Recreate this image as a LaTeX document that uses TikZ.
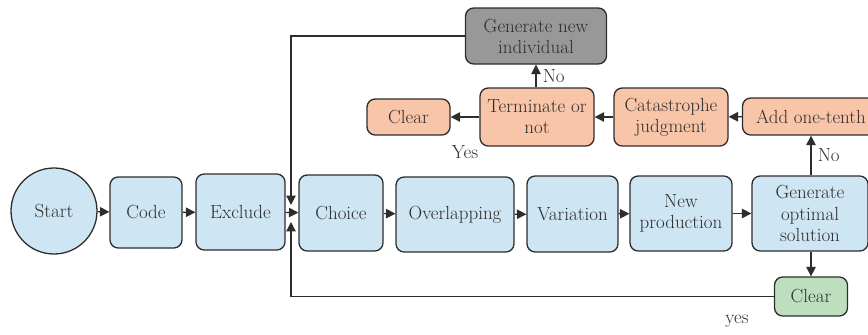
\documentclass[tikz,border=0pt]{standalone}
\usepackage{tikz}
\usetikzlibrary{arrows.meta,positioning}
\definecolor{flowblue}{RGB}{206,229,243}
\definecolor{floworange}{RGB}{249,197,168}
\definecolor{flowgray}{RGB}{152,152,152}
\definecolor{flowgreen}{RGB}{190,223,190}
\definecolor{flowline}{RGB}{45,45,45}

\begin{document}
\begin{tikzpicture}[x=0.03cm,y=-0.03cm,
  font=\fontsize{16.2}{18}\selectfont,
  line width=1.1pt, draw=flowline, text=flowline,
  >={Triangle[length=8pt,width=8pt]}]
    \tikzstyle{box}=[draw=flowline, rounded corners=7pt, align=center, inner sep=0pt, fill=flowblue]
    \tikzstyle{link}=[->, draw=flowline, line width=1pt]

    \clip (0,0) rectangle (868,334);

    % main row
    \node[circle, draw=flowline, fill=flowblue, minimum size=2.58cm, inner sep=0pt] (st) at (54,211) {Start};
    \node[box, minimum width=2.16cm, minimum height=2.13cm] (cd) at (146,212.5) {Code};
    \node[box, minimum width=2.67cm, minimum height=2.28cm] (ex) at (240.5,212) {Exclude};
    \node[box, minimum width=2.52cm, minimum height=2.28cm] (ch) at (341,213) {Choice};
    \node[box, minimum width=3.54cm, minimum height=2.25cm] (ov) at (455,214.5) {Overlapping};
    \node[box, minimum width=2.73cm, minimum height=2.28cm] (va) at (572.5,214) {Variation};
    \node[box, minimum width=3.06cm, minimum height=2.25cm] (np) at (681,213.5) {New\\production};
    \node[box, minimum width=3.48cm, minimum height=2.25cm] (go) at (810,213.5) {Generate\\optimal\\solution};
    \node[box, fill=flowgreen, minimum width=2.19cm, minimum height=1.17cm] (cg) at (811,296.5) {Clear};

    % upper row
    \node[box, fill=floworange, minimum width=4.11cm, minimum height=1.11cm] (ao) at (811,116.5) {Add one-tenth};
    \node[box, fill=floworange, minimum width=3.42cm, minimum height=1.74cm] (cj) at (671,117) {Catastrophe\\judgment};
    \node[box, fill=floworange, minimum width=3.42cm, minimum height=1.74cm] (tn) at (537,117) {Terminate or\\not};
    \node[box, fill=floworange, minimum width=2.49cm, minimum height=1.08cm] (co) at (408.5,117) {Clear};
    \node[box, fill=flowgray, minimum width=4.23cm, minimum height=1.68cm] (gn) at (536,36) {Generate new\\individual};

    \coordinate (upin) at (291,205);
    \coordinate (dnin) at (291,222);

    \foreach \a/\b in {st/cd, cd/ex, ex/ch, ch/ov, ov/va, va/np, np/go}
      \draw[link] (\a) -- (\b);

    \draw[link] (go.south -| cg.north) -- (cg.north);
    \draw[link] (go.north -| ao.south) -- node[right, xshift=2pt] {No} (ao.south);
    \draw[link] (ao) -- (cj);
    \draw[link] (cj) -- (tn);
    \draw[link] (tn) -- (co);
    \draw[link] (tn.north -| gn.south) -- node[right, xshift=2pt] {No} (gn.south);
    \draw[link] (gn.west) -| (upin);
    \draw[link] (cg.west) -| (dnin);

    \node (ys) at (465,152) {Yes};
    \node (ys2) at (737,321) {yes};

\end{tikzpicture}
\end{document}
